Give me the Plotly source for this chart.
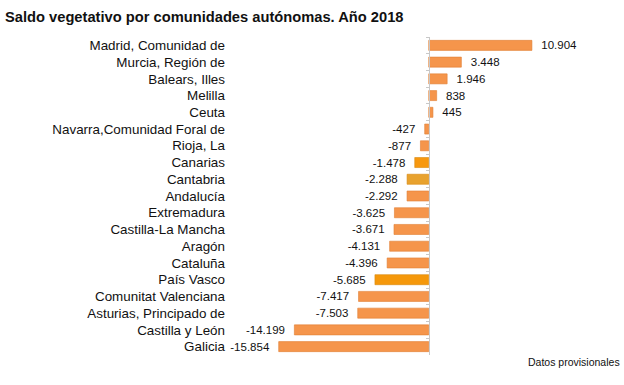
import plotly.graph_objects as go

categories = ["Madrid, Comunidad de", "Murcia, Región de", "Balears, Illes", "Melilla", "Ceuta",
              "Navarra,Comunidad Foral de", "Rioja, La", "Canarias", "Cantabria", "Andalucía",
              "Extremadura", "Castilla-La Mancha", "Aragón", "Cataluña", "País Vasco",
              "Comunitat Valenciana", "Asturias, Principado de", "Castilla y León", "Galicia"]
values = [10904, 3448, 1946, 838, 445, -427, -877, -1478, -2288, -2292,
          -3625, -3671, -4131, -4396, -5685, -7417, -7503, -14199, -15854]

base_color = "#F5954B"
special = {"Canarias": "#F7980F", "Cantabria": "#E8A22E", "País Vasco": "#F5980B"}
colors = [special.get(c, base_color) for c in categories]
line_colors = ["#E07F34" if c not in special else "#D88A10" for c in categories]

def fmt(v):
    s = f"{abs(v):,}".replace(",", ".")
    return f"  {s}" if v >= 0 else f"-{s}  "

texts = [fmt(v) for v in values]
n = len(categories)

fig = go.Figure()
fig.add_trace(go.Bar(
    x=values, y=categories, orientation="h",
    marker=dict(color=colors, line=dict(color=line_colors, width=0.6)),
    text=texts, textposition="outside", cliponaxis=False, constraintext="none",
    textfont=dict(family="Liberation Sans, Arial", size=11.5, color="#111111"),
    showlegend=False,
))
# invisible trace to drive the axis drawn at zero
fig.add_trace(go.Scatter(
    x=[0] * n, y=categories, yaxis="y2", mode="markers",
    marker=dict(opacity=0, size=1), showlegend=False, hoverinfo="skip",
))

fig.update_layout(
    width=624, height=385,
    margin=dict(l=230, r=6, t=37, b=30, autoexpand=False),
    paper_bgcolor="white", plot_bgcolor="white",
    bargap=0.4,
    title=dict(text="<b>Saldo vegetativo por comunidades autónomas. Año 2018</b>",
               x=0.008, xanchor="left", y=0.956, yanchor="middle",
               font=dict(family="Liberation Sans, Arial", size=14.7, color="#111111")),
    xaxis=dict(range=[-21000, 20000], showgrid=False, zeroline=False, automargin=False,
               showticklabels=False, showline=False, ticks=""),
    yaxis=dict(categoryorder="array", categoryarray=categories, range=[n - 0.5, -0.5],
               autorange=False,
               showgrid=False, zeroline=False, showline=False, ticks="", automargin=False,
               tickfont=dict(family="Liberation Sans, Arial", size=13.4, color="#111111"),
               ticklabelstandoff=4),
    yaxis2=dict(overlaying="y", matches="y", anchor="free", position=21000 / 41000,
                showline=True, linecolor="#C8C8C8", linewidth=1, automargin=False,
                ticks="outside", ticklen=3, tickcolor="#C8C8C8", tickson="boundaries",
                showticklabels=False, showgrid=False, zeroline=False,
                categoryorder="array", categoryarray=categories),
    annotations=[dict(text="Datos provisionales", xref="paper", yref="paper",
                      x=1.01, y=-0.021, xanchor="right", yanchor="middle", showarrow=False,
                      font=dict(family="Liberation Sans, Arial", size=10.5, color="#111111"))],
)

fig.write_html("out.html", config={"displayModeBar": False},
               post_script="document.body.style.margin='0';")
